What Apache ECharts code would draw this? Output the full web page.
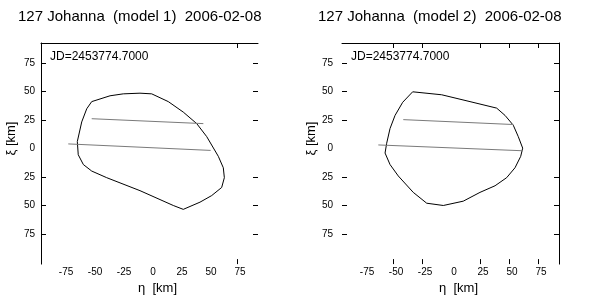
<!DOCTYPE html>
<html>
<head>
<meta charset="utf-8">
<script src="https://cdn.jsdelivr.net/npm/echarts@6/dist/echarts.min.js"></script>
<style>html,body{margin:0;background:#fff}#container{width:600px;height:300px}</style>
</head>
<body>
<div id="container"></div>
<script>
var titles = ['127 Johanna  (model 1)  2006-02-08', '127 Johanna  (model 2)  2006-02-08'];
var jdText = 'JD=2453774.7000';
var tickLabels = [-75, -50, -25, 0, 25, 50, 75];
var yTicks = [-75, -50, -25, 25, 50, 75];
var xTicks1 = [75];
var xTicks2 = [-50, -25, 25, 50, 75];

// model 1 silhouette (eta, xi) in km
var outline1 = [[-50.3,41.1],[-34.5,46.2],[-23.1,47.9],[-8.7,48.5],[1.4,47.9],[15.7,41.1],[28.6,31.9],
  [40.2,21.8],[48.8,10.4],[58.8,-6.9],[63.1,-16.9],[64,-25.6],[61.7,-34.2],[53.1,-41.3],[43,-47.1],
  [28.6,-53.4],[20,-50],[-8.7,-37],[-37.4,-25.6],[-50.3,-19.8],[-57.5,-14.1],[-61.9,-5.5],[-62.7,6.1],
  [-58.9,23.3],[-54.6,34.8],[-50.3,41.1]];
var chordA1 = [[-50.3,26.1],[45.9,21.8]];
var chordB1 = [[-70.5,4],[52.2,-1.7]];

// model 2 silhouette
var outline2 = [[-33.1,49.7],[-8.1,47.1],[16.3,41.1],[39.3,35.4],[46.5,29],[53.6,20.4],[57.9,10.4],
  [61.7,0.3],[60,-6.9],[55.1,-16.9],[47.9,-25.6],[37.9,-32.7],[24.9,-38.5],[10.5,-46.2],[-6.7,-50],
  [-21,-48],[-32.6,-38.5],[-45.5,-24.1],[-52.6,-14.1],[-56.9,-4],[-55.5,4.6],[-52.6,17.5],[-48.3,29],
  [-41.7,40.5],[-33.1,49.7]];
var chordA2 = [[-41.2,25.3],[53.6,21]];
var chordB2 = [[-62.7,3.1],[61.7,-2]];

var myChart = echarts.init(document.getElementById('container'));
var font = 'Liberation Sans, Arial, sans-serif';
var grids = [{left: 41, top: 43, width: 217, height: 225}, {left: 342, top: 43, width: 217, height: 225}];
var xAxes = [], yAxes = [], series = [], titleList = [], graphics = [];
var outlines = [outline1, outline2];
var chords = [[chordA1, chordB1], [chordA2, chordB2]];
var xTickSets = [xTicks1, xTicks2];
var lineSty = {color: '#000', width: 1};

for (var i = 0; i < 2; i++) {
	xAxes.push({
		gridIndex: i, type: 'value', min: -94, max: 93, position: 'bottom',
		axisLine: {show: false, onZero: false},
		axisTick: {show: true, inside: true, length: 5, customValues: xTickSets[i], lineStyle: lineSty},
		axisLabel: {customValues: tickLabels, fontSize: 10, margin: 3, color: '#000', fontFamily: font, padding: [0, 0, 0, 6]},
		splitLine: {show: false},
		name: 'η  [km]', nameLocation: 'middle', nameGap: 12,
		nameTextStyle: {fontSize: 13, color: '#000', fontFamily: font, padding: [0, 0, 0, 16]}
	});
	xAxes.push({
		gridIndex: i, type: 'value', min: -94, max: 93, position: 'top',
		axisLine: {show: true, onZero: false, lineStyle: lineSty},
		axisTick: {show: true, inside: true, length: 5, customValues: xTickSets[i], lineStyle: lineSty},
		axisLabel: {show: false}, splitLine: {show: false}
	});
	yAxes.push({
		gridIndex: i, type: 'value', min: -101.4, max: 92.5, position: 'left',
		axisLine: {show: i === 0, onZero: false, lineStyle: lineSty},
		axisTick: {show: true, inside: true, length: 5, customValues: yTicks, lineStyle: lineSty},
		axisLabel: {customValues: tickLabels, fontSize: 10, margin: i === 0 ? 6 : 9, color: '#000', fontFamily: font,
			formatter: function (v) { return Math.abs(v); }},
		splitLine: {show: false},
		name: 'ξ [km]', nameLocation: 'middle', nameGap: 23,
		nameTextStyle: {fontSize: 13, color: '#000', fontFamily: font, padding: [0, 0, 0, 30]}
	});
	yAxes.push({
		gridIndex: i, type: 'value', min: -101.4, max: 92.5, position: 'right',
		axisLine: {show: i === 1, onZero: false, lineStyle: lineSty},
		axisTick: {show: true, inside: true, length: 5, customValues: yTicks, lineStyle: lineSty},
		axisLabel: {show: false}, splitLine: {show: false}
	});
	series.push({
		type: 'line', xAxisIndex: i * 2, yAxisIndex: i * 2, data: outlines[i],
		showSymbol: false, symbol: 'none', lineStyle: {color: '#000', width: 1}, silent: true, animation: false
	});
	for (var k = 0; k < 2; k++) {
		series.push({
			type: 'line', xAxisIndex: i * 2, yAxisIndex: i * 2, data: chords[i][k],
			showSymbol: false, symbol: 'none', lineStyle: {color: '#7a7a7a', width: 1}, silent: true, animation: false
		});
	}
	titleList.push({
		text: titles[i], left: i === 0 ? 18 : 318, top: 9, padding: 0,
		textStyle: {fontSize: 15, fontWeight: 'normal', color: '#000', fontFamily: font}
	});
	graphics.push({
		type: 'text', left: i === 0 ? 50 : 351, top: 51,
		style: {text: jdText, fontSize: 12, fill: '#000', fontFamily: font}
	});
}

myChart.setOption({
	backgroundColor: '#fff',
	animation: false,
	title: titleList,
	grid: grids,
	xAxis: xAxes,
	yAxis: yAxes,
	graphic: graphics,
	series: series
});
</script>
</body>
</html>
